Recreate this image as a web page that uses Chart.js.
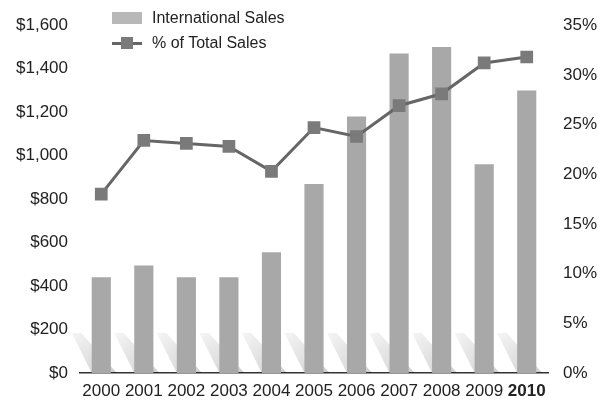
<!DOCTYPE html>
<html>
<head>
<meta charset="utf-8">
<script src="https://cdn.jsdelivr.net/npm/chart.js@4.4.0/dist/chart.umd.min.js"></script>
<style>
 html,body{margin:0;padding:0;background:#fff;}
 #wrap{position:relative;width:598px;height:400px;}
 #legend{position:absolute;left:112px;top:5px;font-family:"Liberation Sans",Arial,sans-serif;font-size:16px;color:#222;}
 .row{display:flex;align-items:center;height:25px;}
 .sw{width:30px;height:12px;margin-right:10px;position:relative;}
 .bar{background:#b8b8b8;}
 .ln:before{content:"";position:absolute;left:0;right:0;top:5px;height:3px;background:#666;}
 .ln:after{content:"";position:absolute;left:9px;top:0;width:12px;height:12px;background:#7a7a7a;}
</style>
</head>
<body>
<div id="wrap">
<canvas id="c" width="598" height="400"></canvas>
<div id="legend">
 <div class="row"><span class="sw bar"></span>International Sales</div>
 <div class="row"><span class="sw ln"></span>% of Total Sales</div>
</div>
</div>
<script>
const years=['2000','2001','2002','2003','2004','2005','2006','2007','2008','2009','2010'];
const intlSales=[440,495,440,440,555,870,1180,1470,1500,960,1300];
const pctTotal=[18.0,23.4,23.1,22.8,20.3,24.7,23.8,26.9,28.1,31.2,31.8];
const dollarTicks=[0,200,400,600,800,1000,1200,1400,1600];
const pctTicks=[0,5,10,15,20,25,30,35];

const FONT='"Liberation Sans",Arial,sans-serif';

// faint slanted shadow at the foot of each bar
const shadowPlugin={
 id:'shadows',
 beforeDatasetsDraw(chart){
  const meta=chart.getDatasetMeta(1);
  const c=chart.ctx;
  c.save();
  meta.data.forEach(b=>{
   const w=b.width, l=b.x-w/2, base=b.base, h=40;
   const g=c.createLinearGradient(l-20,base-h,l+w,base);
   g.addColorStop(0,'rgba(0,0,0,0.04)');
   g.addColorStop(1,'rgba(0,0,0,0.18)');
   c.fillStyle=g;
   c.beginPath();
   c.moveTo(l-20,base-h);
   c.lineTo(l-20+w*0.5,base-h);
   c.lineTo(l+w+6,base);
   c.lineTo(l,base);
   c.closePath();
   c.fill();
  });
  c.restore();
 }
};

new Chart(document.getElementById('c'),{
 data:{
  labels:years,
  datasets:[
   {type:'line',label:'% of Total Sales',data:pctTotal,yAxisID:'y1',
    borderColor:'#666',borderWidth:3,backgroundColor:'#7a7a7a',
    pointStyle:'rect',pointRadius:9,pointBorderWidth:0,pointBackgroundColor:'#7a7a7a',tension:0,order:0},
   {type:'bar',label:'International Sales',data:intlSales,yAxisID:'y',
    backgroundColor:'#a8a8a8',barPercentage:0.45,categoryPercentage:1,order:1}
  ]
 },
 options:{
  responsive:false,animation:false,
  layout:{padding:{top:25,left:0,right:0,bottom:0}},
  plugins:{legend:{display:false},tooltip:{enabled:false}},
  scales:{
   x:{
    grid:{display:false,drawTicks:false},
    border:{display:true,color:'#333',width:1.5},
    ticks:{padding:8,color:'#222',maxRotation:0,minRotation:0,autoSkip:false,
     font:ctx=>({family:FONT,size:17,weight:ctx.index===10?'bold':'normal'})},
    afterFit:s=>{s.height=27;}
   },
   y:{
    position:'left',min:0,max:1600,
    grid:{display:false,drawTicks:false},border:{display:false},
    afterBuildTicks:s=>{s.ticks=dollarTicks.map(v=>({value:v}));},
    ticks:{padding:12,color:'#222',font:{family:FONT,size:17},
     callback:v=>'$'+v.toLocaleString('en-US')},
    afterFit:s=>{s.width=80;}
   },
   y1:{
    position:'right',min:0,max:35,
    grid:{display:false,drawTicks:false},border:{display:false},
    afterBuildTicks:s=>{s.ticks=pctTicks.map(v=>({value:v}));},
    ticks:{padding:15,color:'#222',font:{family:FONT,size:17},callback:v=>v+'%'},
    afterFit:s=>{s.width=50;}
   }
  }
 },
 plugins:[shadowPlugin]
});
</script>
</body>
</html>
